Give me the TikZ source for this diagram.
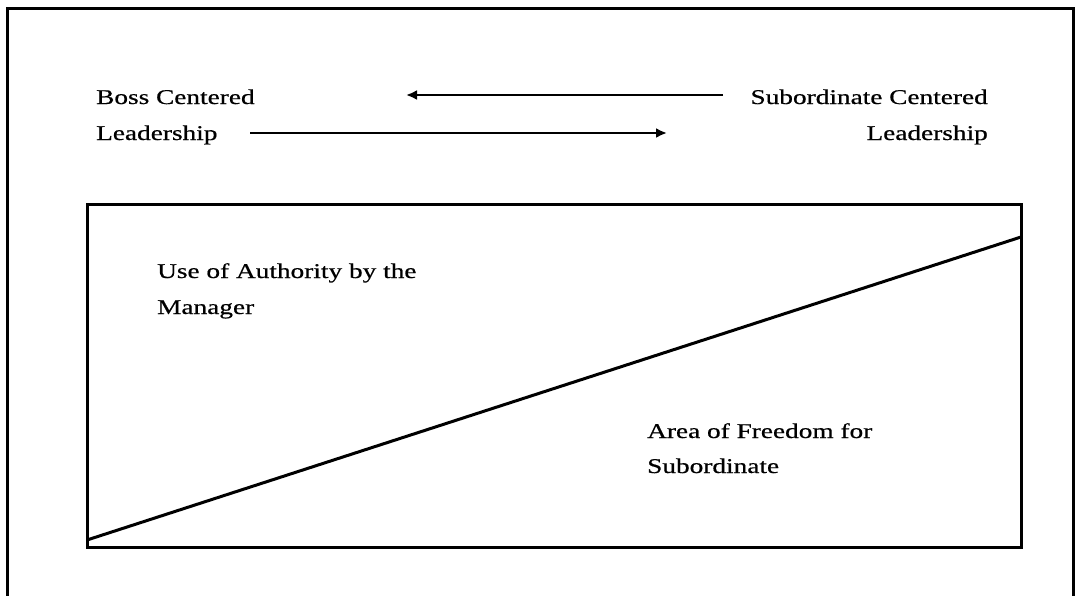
\documentclass[tikz,border=0pt]{standalone}
\usepackage{fontspec}
\setmainfont[FakeStretch=1.3, FakeBold=0.6]{Liberation Serif}
\usetikzlibrary{arrows.meta, positioning}

\begin{document}
\begin{tikzpicture}[
        x=1pt, y=-1pt,
        frame/.style={draw=black, line width=3pt},
        txt/.style={inner sep=0pt, font=\fontsize{21}{36}\selectfont},
        rel/.style={-{Latex[length=11pt, width=10pt]}, line width=2.2pt}
    ]
        \useasboundingbox (0,0) rectangle (1077,595);

        % outer frame, open at the bottom
        \draw[frame] (7,600) -- (7,8) -- (1073,8) -- (1073,600);

        \node[txt, anchor=base west, align=left] (boss) at (96,140) {Boss Centered\\Leadership};
        \node[txt, anchor=base east, align=right] (sub) at (988,140) {Subordinate Centered\\Leadership};

        \coordinate (topR) at (723,95);
        \coordinate (topL) at (406,95);
        \coordinate (botL) at (250,133);
        \coordinate (botR) at (667,133);
        \draw[rel] (topR) -- (topL);
        \draw[rel] (botL) -- (botR);

        % inner box with the dividing line
        \coordinate (boxNW) at (87,204);
        \coordinate (boxSE) at (1021,547);
        \draw[frame] (boxNW) rectangle (boxSE);
        \coordinate (lineL) at (87,540);
        \coordinate (lineR) at (1021,237);
        \draw[frame] (lineL) -- (lineR);

        \node[txt, anchor=base west, align=left] (auth) at (157,314) {Use of Authority by the\\Manager};
        \node[txt, anchor=base west, align=left, font=\fontsize{21}{35}\selectfont] (free) at (647,473) {Area of Freedom for\\Subordinate};
    \end{tikzpicture}
\end{document}
